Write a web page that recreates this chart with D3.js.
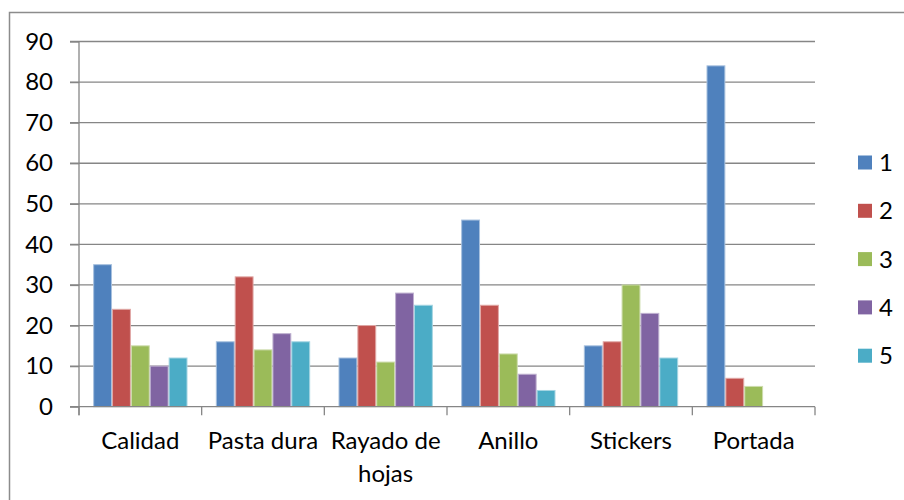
<!DOCTYPE html>
<html><head><meta charset="utf-8">
<script src="https://cdn.jsdelivr.net/npm/d3@7"></script>
<style>
html,body{margin:0;padding:0;background:#fff;}
svg{display:block;font-family:Lato,"Open Sans",sans-serif;}
</style></head>
<body><svg id="c" width="904" height="500"></svg>
<script>
const categories = ["Calidad","Pasta dura","Rayado de hojas","Anillo","Stickers","Portada"];
const seriesNames = ["1","2","3","4","5"];
const s1 = [35,16,12,46,15,84];
const s2 = [24,32,20,25,16,7];
const s3 = [15,14,11,13,30,5];
const s4 = [10,18,28,8,23,0];
const s5 = [12,16,25,4,12,0];
const yTicks = [0,10,20,30,40,50,60,70,80,90];
const colors = ["#4F81BD","#C0504D","#9BBB59","#8064A2","#4BACC6"];
const edge = ["#a7c0de","#e0a8a6","#cddcac","#bfb1d0","#a5d5e2"];
const series = [s1,s2,s3,s4,s5];

const svg = d3.select("#c");
const fs = 24;
// outer frame
svg.append("rect").attr("x",9.5).attr("y",12.5).attr("width",920).attr("height",520)
  .attr("fill","none").attr("stroke","#8c8c8c").attr("stroke-width",1.5);

const L = 79, R = 815, T = 41.5, B = 406.7;
const x = d3.scaleBand().domain(categories).range([L,R]).padding(0);
const bw = x.bandwidth();
const inner = d3.scaleBand().domain(d3.range(5)).range([bw*0.1154, bw*(1-0.1154)]).padding(0);
const y = d3.scaleLinear().domain([0,90]).range([B,T]);

// gridlines
const g = svg.append("g");
g.selectAll("line.grid").data(yTicks.filter(d=>d>0)).join("line")
  .attr("x1",70).attr("x2",R).attr("y1",d=>y(d)).attr("y2",d=>y(d))
  .attr("stroke","#868686").attr("stroke-width",1.3);

// bars
series.forEach((vals,si)=>{
  svg.append("g").selectAll("rect").data(vals.map((v,i)=>({c:categories[i],v})).filter(d=>d.v>0)).join("rect")
    .attr("x",d=>x(d.c)+inner(si)+0.5)
    .attr("width",inner.bandwidth()-1)
    .attr("y",d=>y(d.v))
    .attr("height",d=>B-y(d.v))
    .attr("fill",colors[si])
    .attr("stroke",edge[si]).attr("stroke-width",1);
});

// y axis
const ya = svg.append("g").attr("transform",`translate(${L},0)`)
  .call(d3.axisLeft(y).tickValues(yTicks).tickSize(9).tickSizeOuter(0));
ya.select(".domain").attr("stroke","#868686").attr("stroke-width",1.3)
  .attr("d",`M0,${T}V${B+8.5}`);
ya.selectAll(".tick line").attr("stroke","#868686").attr("stroke-width",1.3);
ya.selectAll(".tick text").attr("font-size",fs).attr("fill","#000").attr("x",-26)
  .attr("font-family","Lato");

// x axis
const xa = svg.append("g").attr("transform",`translate(0,${B})`);
xa.append("line").attr("x1",70).attr("x2",R).attr("stroke","#868686").attr("stroke-width",1.3);
const bounds = categories.map(c=>x(c)).concat([R]);
xa.selectAll("line.tk").data(bounds).join("line").attr("class","tk")
  .attr("x1",d=>d).attr("x2",d=>d).attr("y1",0).attr("y2",8.5)
  .attr("stroke","#868686").attr("stroke-width",1.3);

// category labels with wrapping
const lab = svg.append("g");
categories.forEach(c=>{
  const t = lab.append("text").attr("x",x(c)+bw/2).attr("y",449)
    .attr("text-anchor","middle").attr("font-size",fs).attr("fill","#000");
  const words = c.split(" ");
  let line = [];
  let ts = t.append("tspan").attr("x",x(c)+bw/2).attr("dy",0);
  words.forEach(w=>{
    line.push(w);
    ts.text(line.join(" "));
    if (ts.node().getComputedTextLength() > bw-2 && line.length>1){
      line.pop(); ts.text(line.join(" "));
      line=[w];
      ts = t.append("tspan").attr("x",x(c)+bw/2).attr("dy",33).text(w);
    }
  });
});

// legend
const lg = svg.append("g");
seriesNames.forEach((n,i)=>{
  const cy = 162.5 + i*48.3;
  lg.append("rect").attr("x",858).attr("y",cy-7).attr("width",14).attr("height",14).attr("fill",colors[i]);
  lg.append("text").attr("x",879).attr("y",cy+8.5).attr("font-size",fs).attr("fill","#000").text(n);
});
</script></body></html>
